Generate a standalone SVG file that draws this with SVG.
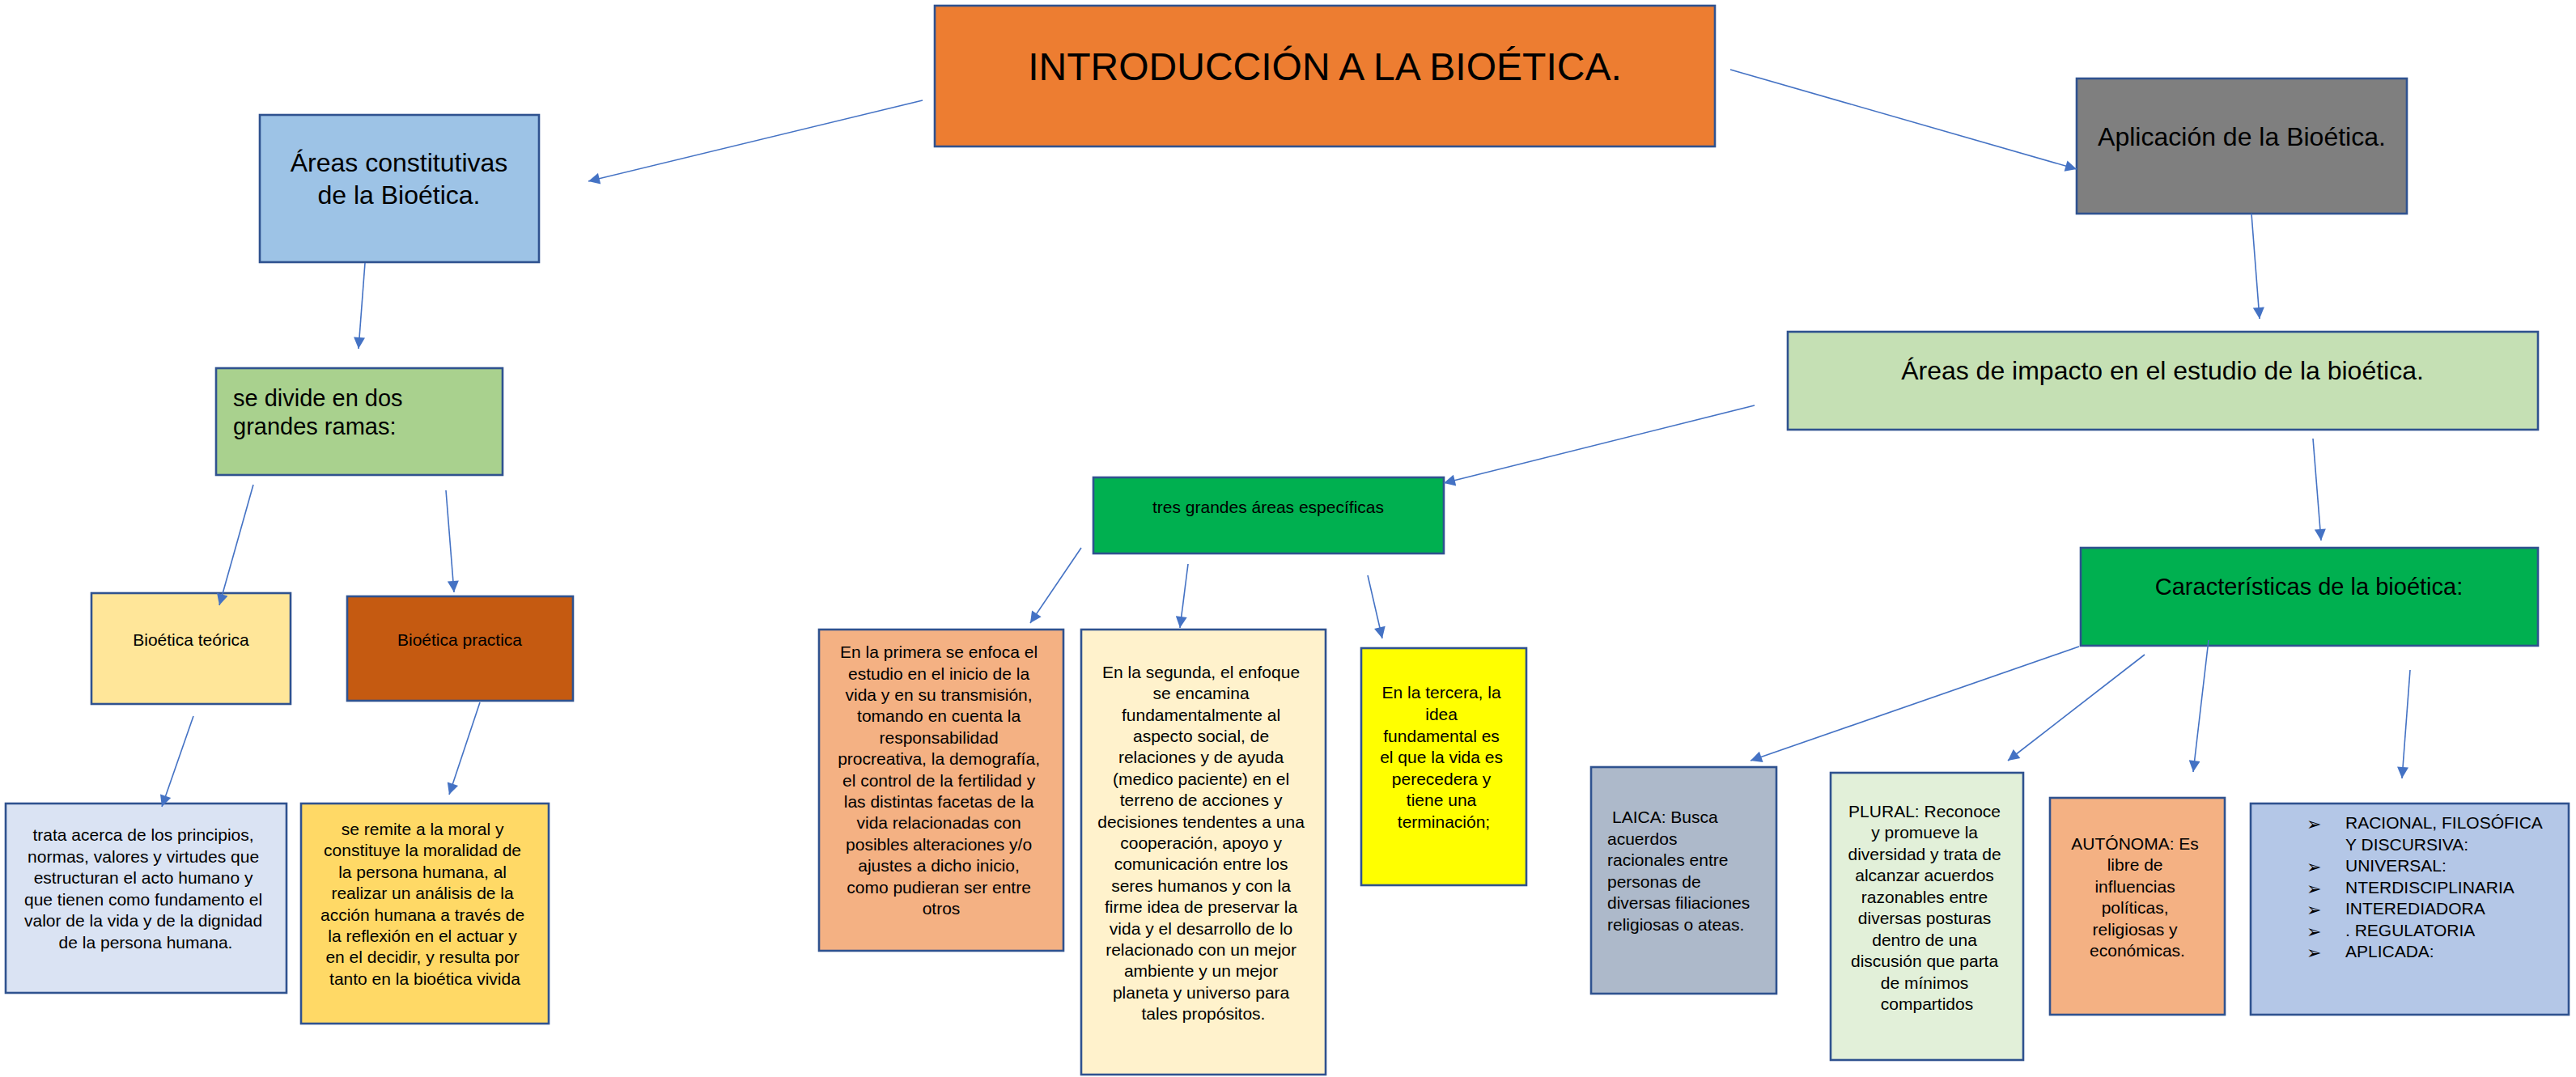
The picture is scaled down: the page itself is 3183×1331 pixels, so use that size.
<svg xmlns="http://www.w3.org/2000/svg" width="3183" height="1331" viewBox="0 0 3183 1331">
<defs>
<style>
.box{stroke:#2F528F;stroke-width:2.6}
text{font-family:"Liberation Sans",Arial,sans-serif;fill:#000}
.s{font-size:21px}
.c{text-anchor:middle}
.m{font-size:32px}
.b{font-family:"DejaVu Sans",sans-serif;font-size:22px;font-weight:bold}
.con line{stroke:#4472C4;stroke-width:1.6;fill:none;marker-end:url(#ah)}
</style>
<marker id="ah" viewBox="0 0 10 10" refX="10" refY="5" markerWidth="18" markerHeight="14" markerUnits="userSpaceOnUse" orient="auto">
<path d="M0,0 L10,5 L0,10 z" fill="#4472C4"/>
</marker>
</defs>
<rect width="3183" height="1331" fill="#fff"/>

<g id="intro">
<rect class="box" x="1155" y="7" width="964" height="174" fill="#ED7D31"/>
<text x="1637" y="99" class="c" font-size="48">INTRODUCCIÓN A LA BIOÉTICA.</text>
</g>

<g id="areas-constitutivas">
<rect class="box" x="321" y="142" width="345" height="182" fill="#9DC3E6"/>
<text class="c m" x="493" y="212">Áreas constitutivas</text>
<text class="c m" x="493" y="252">de la Bioética.</text>
</g>

<g id="se-divide">
<rect class="box" x="267" y="455" width="354" height="132" fill="#A9D18E"/>
<text x="288" y="502" font-size="29">se divide en dos</text>
<text x="288" y="537" font-size="29">grandes ramas:</text>
</g>

<g id="bioetica-teorica">
<rect class="box" x="113" y="733" width="246" height="137" fill="#FFE699"/>
<text class="s c" x="236" y="798">Bioética teórica</text>
</g>

<g id="bioetica-practica">
<rect class="box" x="429" y="737" width="279" height="129" fill="#C55A11"/>
<text class="s c" x="568" y="798">Bioética practica</text>
</g>

<g id="teorica-desc">
<rect class="box" x="7" y="993" width="347" height="234" fill="#DAE3F3"/>
<text class="s c" x="180">
<tspan x="180" y="1039">trata acerca de los principios,</tspan>
<tspan x="180" y="1065.5">normas, valores y virtudes que</tspan>
<tspan x="180" y="1092">estructuran el acto humano y</tspan>
<tspan x="180" y="1118.5">que tienen como fundamento el</tspan>
<tspan x="180" y="1145">valor de la vida y de la dignidad</tspan>
<tspan x="180" y="1171.5">de la persona humana.</tspan>
</text>
</g>

<g id="practica-desc">
<rect class="box" x="372" y="993" width="306" height="272" fill="#FFD966"/>
<text class="s c" x="525">
<tspan x="525" y="1032">se remite a la moral y</tspan>
<tspan x="525" y="1058.4">constituye la moralidad de</tspan>
<tspan x="525" y="1084.8">la persona humana, al</tspan>
<tspan x="525" y="1111.2">realizar un análisis de la</tspan>
<tspan x="525" y="1137.6">acción humana a través de</tspan>
<tspan x="525" y="1164">la reflexión en el actuar y</tspan>
<tspan x="525" y="1190.4">en el decidir, y resulta por</tspan>
<tspan x="525" y="1216.8">tanto en la bioética vivida</tspan>
</text>
</g>

<g id="aplicacion">
<rect class="box" x="2566" y="97" width="408" height="167" fill="#7F7F7F"/>
<text class="c m" x="2770" y="180">Aplicación de la Bioética.</text>
</g>

<g id="areas-impacto">
<rect class="box" x="2209" y="410" width="927" height="121" fill="#C5E0B4"/>
<text class="c m" x="2672" y="469">Áreas de impacto en el estudio de la bioética.</text>
</g>

<g id="tres-grandes">
<rect class="box" x="1351" y="590" width="433" height="94" fill="#00B050"/>
<text class="s c" x="1567" y="634">tres grandes áreas específicas</text>
</g>

<g id="primera">
<rect class="box" x="1012" y="778" width="302" height="397" fill="#F4B183"/>
<text class="s c" x="1163">
<tspan x="1163" y="813.2">En la primera se enfoca el</tspan>
<tspan x="1163" y="839.6">estudio en el inicio de la</tspan>
<tspan x="1163" y="866">vida y en su transmisión,</tspan>
<tspan x="1163" y="892.4">tomando en cuenta la</tspan>
<tspan x="1163" y="918.8">responsabilidad</tspan>
<tspan x="1163" y="945.2">procreativa, la demografía,</tspan>
<tspan x="1163" y="971.6">el control de la fertilidad y</tspan>
<tspan x="1163" y="998">las distintas facetas de la</tspan>
<tspan x="1163" y="1024.4">vida relacionadas con</tspan>
<tspan x="1163" y="1050.8">posibles alteraciones y/o</tspan>
<tspan x="1163" y="1077.2">ajustes a dicho inicio,</tspan>
<tspan x="1163" y="1103.6">como pudieran ser entre</tspan>
<tspan x="1163" y="1130">otros</tspan>
</text>
</g>

<g id="segunda">
<rect class="box" x="1336" y="778" width="302" height="550" fill="#FFF2CC"/>
<text class="s c" x="1487">
<tspan x="1487" y="837.8">En la segunda, el enfoque</tspan>
<tspan x="1487" y="864.2">se encamina</tspan>
<tspan x="1487" y="890.6">fundamentalmente al</tspan>
<tspan x="1487" y="917">aspecto social, de</tspan>
<tspan x="1487" y="943.4">relaciones y de ayuda</tspan>
<tspan x="1487" y="969.8">(medico paciente) en el</tspan>
<tspan x="1487" y="996.2">terreno de acciones y</tspan>
<tspan x="1487" y="1022.6">decisiones tendentes a una</tspan>
<tspan x="1487" y="1049">cooperación, apoyo y</tspan>
<tspan x="1487" y="1075.4">comunicación entre los</tspan>
<tspan x="1487" y="1101.8">seres humanos y con la</tspan>
<tspan x="1487" y="1128.2">firme idea de preservar la</tspan>
<tspan x="1487" y="1154.6">vida y el desarrollo de lo</tspan>
<tspan x="1487" y="1181">relacionado con un mejor</tspan>
<tspan x="1487" y="1207.4">ambiente y un mejor</tspan>
<tspan x="1487" y="1233.8">planeta y universo para</tspan>
<tspan x="1487" y="1260.2">tales propósitos.</tspan>
</text>
</g>

<g id="tercera">
<rect class="box" x="1682" y="801" width="204" height="293" fill="#FFFF00"/>
<text class="s c" x="1784">
<tspan x="1784" y="863.4">En la tercera, la</tspan>
<tspan x="1784" y="890">idea</tspan>
<tspan x="1784" y="916.6">fundamental es</tspan>
<tspan x="1784" y="943.2">el que la vida es</tspan>
<tspan x="1784" y="969.8">perecedera y</tspan>
<tspan x="1784" y="996.4">tiene una</tspan>
<tspan x="1784" y="1023">terminación;</tspan>
</text>
</g>

<g id="caracteristicas">
<rect class="box" x="2571" y="677" width="565" height="121" fill="#00B050"/>
<text class="c" font-size="29" x="2853" y="735">Características de la bioética:</text>
</g>

<g id="laica">
<rect class="box" x="1966" y="948" width="229" height="280" fill="#ADB9CA"/>
<text class="s" x="1986">
<tspan x="1992" y="1017">LAICA: Busca</tspan>
<tspan x="1986" y="1043.6">acuerdos</tspan>
<tspan x="1986" y="1070.2">racionales entre</tspan>
<tspan x="1986" y="1096.8">personas de</tspan>
<tspan x="1986" y="1123.4">diversas filiaciones</tspan>
<tspan x="1986" y="1150">religiosas o ateas.</tspan>
</text>
</g>

<g id="plural">
<rect class="box" x="2262" y="955" width="238" height="355" fill="#E2F0D9"/>
<text class="s c" x="2381">
<tspan x="2381" y="1009.6">PLURAL: Reconoce</tspan>
<tspan x="2381" y="1036.1">y promueve la</tspan>
<tspan x="2381" y="1062.6">diversidad y trata de</tspan>
<tspan x="2381" y="1089.1">alcanzar acuerdos</tspan>
<tspan x="2381" y="1115.6">razonables entre</tspan>
<tspan x="2381" y="1142.1">diversas posturas</tspan>
<tspan x="2381" y="1168.6">dentro de una</tspan>
<tspan x="2381" y="1195.1">discusión que parta</tspan>
<tspan x="2381" y="1221.6">de mínimos</tspan>
<tspan x="2381" y="1248.1">compartidos</tspan>
</text>
</g>

<g id="autonoma">
<rect class="box" x="2533" y="986" width="216" height="268" fill="#F4B183"/>
<text class="s c" x="2641">
<tspan x="2641" y="1049.6">AUTÓNOMA: Es</tspan>
<tspan x="2641" y="1076.1">libre de</tspan>
<tspan x="2641" y="1102.6">influencias</tspan>
<tspan x="2641" y="1129.1">políticas,</tspan>
<tspan x="2641" y="1155.6">religiosas y</tspan>
<tspan x="2641" y="1182.1">económicas.</tspan>
</text>
</g>

<g id="lista">
<rect class="box" x="2781" y="993" width="393" height="261" fill="#B4C7E7"/>
<text class="b" x="2850" y="1026">➢</text>
<text class="b" x="2850" y="1079">➢</text>
<text class="b" x="2850" y="1105.5">➢</text>
<text class="b" x="2850" y="1132">➢</text>
<text class="b" x="2850" y="1158.5">➢</text>
<text class="b" x="2850" y="1185">➢</text>
<text class="s" x="2898">
<tspan x="2898" y="1024.4">RACIONAL, FILOSÓFICA</tspan>
<tspan x="2898" y="1050.9">Y DISCURSIVA:</tspan>
<tspan x="2898" y="1077.4">UNIVERSAL:</tspan>
<tspan x="2898" y="1103.9">NTERDISCIPLINARIA</tspan>
<tspan x="2898" y="1130.4">INTEREDIADORA</tspan>
<tspan x="2898" y="1156.9">. REGULATORIA</tspan>
<tspan x="2898" y="1183.4">APLICADA:</tspan>
</text>
</g>

<g id="connectors" class="con">
<line x1="1140" y1="124" x2="727" y2="224"/>
<line x1="2138" y1="86" x2="2566" y2="209"/>
<line x1="451" y1="325" x2="443" y2="431"/>
<line x1="313" y1="599" x2="271" y2="748"/>
<line x1="551" y1="606" x2="561" y2="732"/>
<line x1="239" y1="885" x2="200" y2="997"/>
<line x1="593" y1="868" x2="555" y2="982"/>
<line x1="2782" y1="264" x2="2792" y2="394"/>
<line x1="2168" y1="501" x2="1784" y2="597"/>
<line x1="2858" y1="542" x2="2868" y2="668"/>
<line x1="1336" y1="677" x2="1273" y2="770"/>
<line x1="1468" y1="697" x2="1458" y2="776"/>
<line x1="1690" y1="711" x2="1708" y2="789"/>
<line x1="2569" y1="799" x2="2163" y2="940"/>
<line x1="2650" y1="809" x2="2481" y2="940"/>
<line x1="2729" y1="791" x2="2710" y2="954"/>
<line x1="2978" y1="828" x2="2968" y2="962"/>
</g>
</svg>
